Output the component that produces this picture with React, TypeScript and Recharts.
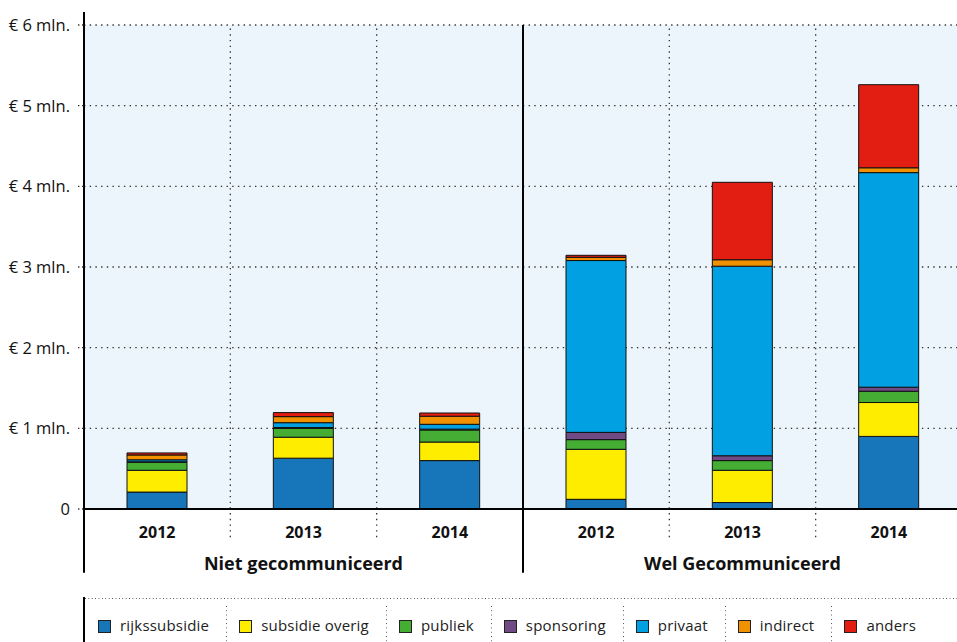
import React from 'react'
import { BarChart, Bar, XAxis, YAxis, CartesianGrid, ReferenceLine } from 'recharts'

// categorieën
const GROUPS = ['Niet gecommuniceerd', 'Wel Gecommuniceerd']
const YEARS = ['2012', '2013', '2014']

// bedragen in miljoen euro, per groep x jaar (Niet 2012..2014, Wel 2012..2014)
const rijkssubsidie = [0.21, 0.63, 0.6, 0.12, 0.08, 0.9]
const subsidieOverig = [0.27, 0.26, 0.23, 0.62, 0.4, 0.42]
const publiek = [0.1, 0.11, 0.15, 0.12, 0.12, 0.14]
const sponsoring = [0.005, 0.01, 0.01, 0.09, 0.06, 0.05]
const privaat = [0.025, 0.06, 0.06, 2.13, 2.35, 2.66]
const indirect = [0.06, 0.075, 0.1, 0.04, 0.08, 0.06]
const anders = [0.025, 0.05, 0.04, 0.025, 0.96, 1.03]

const Y_TICKS = [0, 1, 2, 3, 4, 5, 6]
const Y_LABELS = ['0', '€ 1 mln.', '€ 2 mln.', '€ 3 mln.', '€ 4 mln.', '€ 5 mln.', '€ 6 mln.']

const SERIES = [
  { key: 'rijkssubsidie', name: 'rijkssubsidie', color: '#1776b9', values: rijkssubsidie },
  { key: 'subsidieOverig', name: 'subsidie overig', color: '#ffed00', values: subsidieOverig },
  { key: 'publiek', name: 'publiek', color: '#45ac34', values: publiek },
  { key: 'sponsoring', name: 'sponsoring', color: '#6f4a85', values: sponsoring },
  { key: 'privaat', name: 'privaat', color: '#00a0e2', values: privaat },
  { key: 'indirect', name: 'indirect', color: '#f29100', values: indirect },
  { key: 'anders', name: 'anders', color: '#e21e12', values: anders },
]

const rows = GROUPS.flatMap((group, g) =>
  YEARS.map((year, y) => {
    const i = g * YEARS.length + y
    const row: Record<string, string | number> = { id: `${group}-${year}`, group, year }
    SERIES.forEach((s) => { row[s.key] = s.values[i] })
    return row
  })
)
const ids = rows.map((r) => r.id as string)
// eerste categorie van elke groep, daar komt de harde scheidslijn
const groupStarts = ids.filter((_, i) => i % YEARS.length === 0)
const innerStarts = ids.filter((_, i) => i % YEARS.length !== 0)

const FONT = '"Open Sans", "DejaVu Sans", sans-serif'
const DOTS = '1.4 4.3'

function CategoryTick({ x, y, index }: { x?: number; y?: number; index?: number }) {
  const row = rows[index ?? 0]
  const middle = row.year === YEARS[1]
  return (
    <g>
      <text x={x} y={(y ?? 0) + 29} textAnchor="middle" fontSize={16} fontWeight={700} fill="#111" fontFamily={FONT}>
        {row.year}
      </text>
      {middle && (
        <text x={x} y={(y ?? 0) + 61} textAnchor="middle" fontSize={18} fontWeight={700} fill="#111" fontFamily={FONT}>
          {row.group}
        </text>
      )}
    </g>
  )
}

function ChartLegend() {
  return (
    <div style={{
      position: 'absolute', left: 83, top: 597, width: 874, height: 45,
      borderLeft: '2px solid #000',
      backgroundImage: 'linear-gradient(to right, #444 1.2px, transparent 1.2px)',
      backgroundSize: '3.4px 1px', backgroundRepeat: 'repeat-x', backgroundPosition: '0 1px',
      display: 'flex', alignItems: 'flex-end', fontFamily: FONT,
    }}>
      {SERIES.map((s, i) => (
        <div key={s.key} style={{
          display: 'flex', alignItems: 'center', height: 36, padding: '0 17px 0 13px',
          backgroundImage: i > 0 ? 'linear-gradient(to bottom, #444 1.2px, transparent 1.2px)' : 'none',
          backgroundSize: '1px 4.3px', backgroundRepeat: 'repeat-y', backgroundPosition: '0 0',
        }}>
          <span style={{ width: 11, height: 11, background: s.color, border: '1px solid #222', marginRight: 9, marginTop: 4 }} />
          <span style={{ fontSize: 15, color: '#222', marginTop: 2, letterSpacing: 0.2 }}>{s.name}</span>
        </div>
      ))}
    </div>
  )
}

export default function App() {
  return (
    <div style={{ position: 'absolute', left: 0, top: 0, width: 957, height: 642, overflow: 'hidden', background: '#fff' }}>
      <BarChart width={962} height={580} data={rows} margin={{ top: 25, right: 0, left: 0, bottom: 0 }} barSize={60}>
        <CartesianGrid vertical={false} fill="#ebf5fb" stroke="#333" strokeDasharray={DOTS} strokeWidth={1.3} />
        <XAxis
          dataKey="id" height={71} interval={0} tickLine={false} tickSize={0} tickMargin={0}
          axisLine={{ stroke: '#000', strokeWidth: 2 }} tick={<CategoryTick />}
        />
        <YAxis
          domain={[0, 6]} ticks={Y_TICKS} width={84} axisLine={false}
          tickSize={6} tickMargin={8}
          tickLine={{ stroke: '#333', strokeDasharray: '1.4 2.6', strokeWidth: 1.3 }}
          tickFormatter={(v: number) => Y_LABELS[Y_TICKS.indexOf(v)]}
          tick={{ fill: '#111', fontSize: 16.5, fontFamily: FONT }}
        />
        {SERIES.map((s) => (
          <Bar key={s.key} dataKey={s.key} name={s.name} stackId="a" fill={s.color}
            stroke="#111" strokeWidth={1} isAnimationActive={false} />
        ))}
        {innerStarts.map((id) => (
          <ReferenceLine key={id} ifOverflow="visible" position="start"
            segment={[{ x: id, y: -0.35 }, { x: id, y: 6 }]}
            stroke="#333" strokeDasharray={DOTS} strokeWidth={1.3} />
        ))}
        {groupStarts.map((id, i) => (
          <ReferenceLine key={id} ifOverflow="visible" position="start"
            segment={[{ x: id, y: -0.79 }, { x: id, y: i === 0 ? 6.16 : 6 }]}
            stroke="#000" strokeWidth={2} />
        ))}
      </BarChart>
      <ChartLegend />
    </div>
  )
}
